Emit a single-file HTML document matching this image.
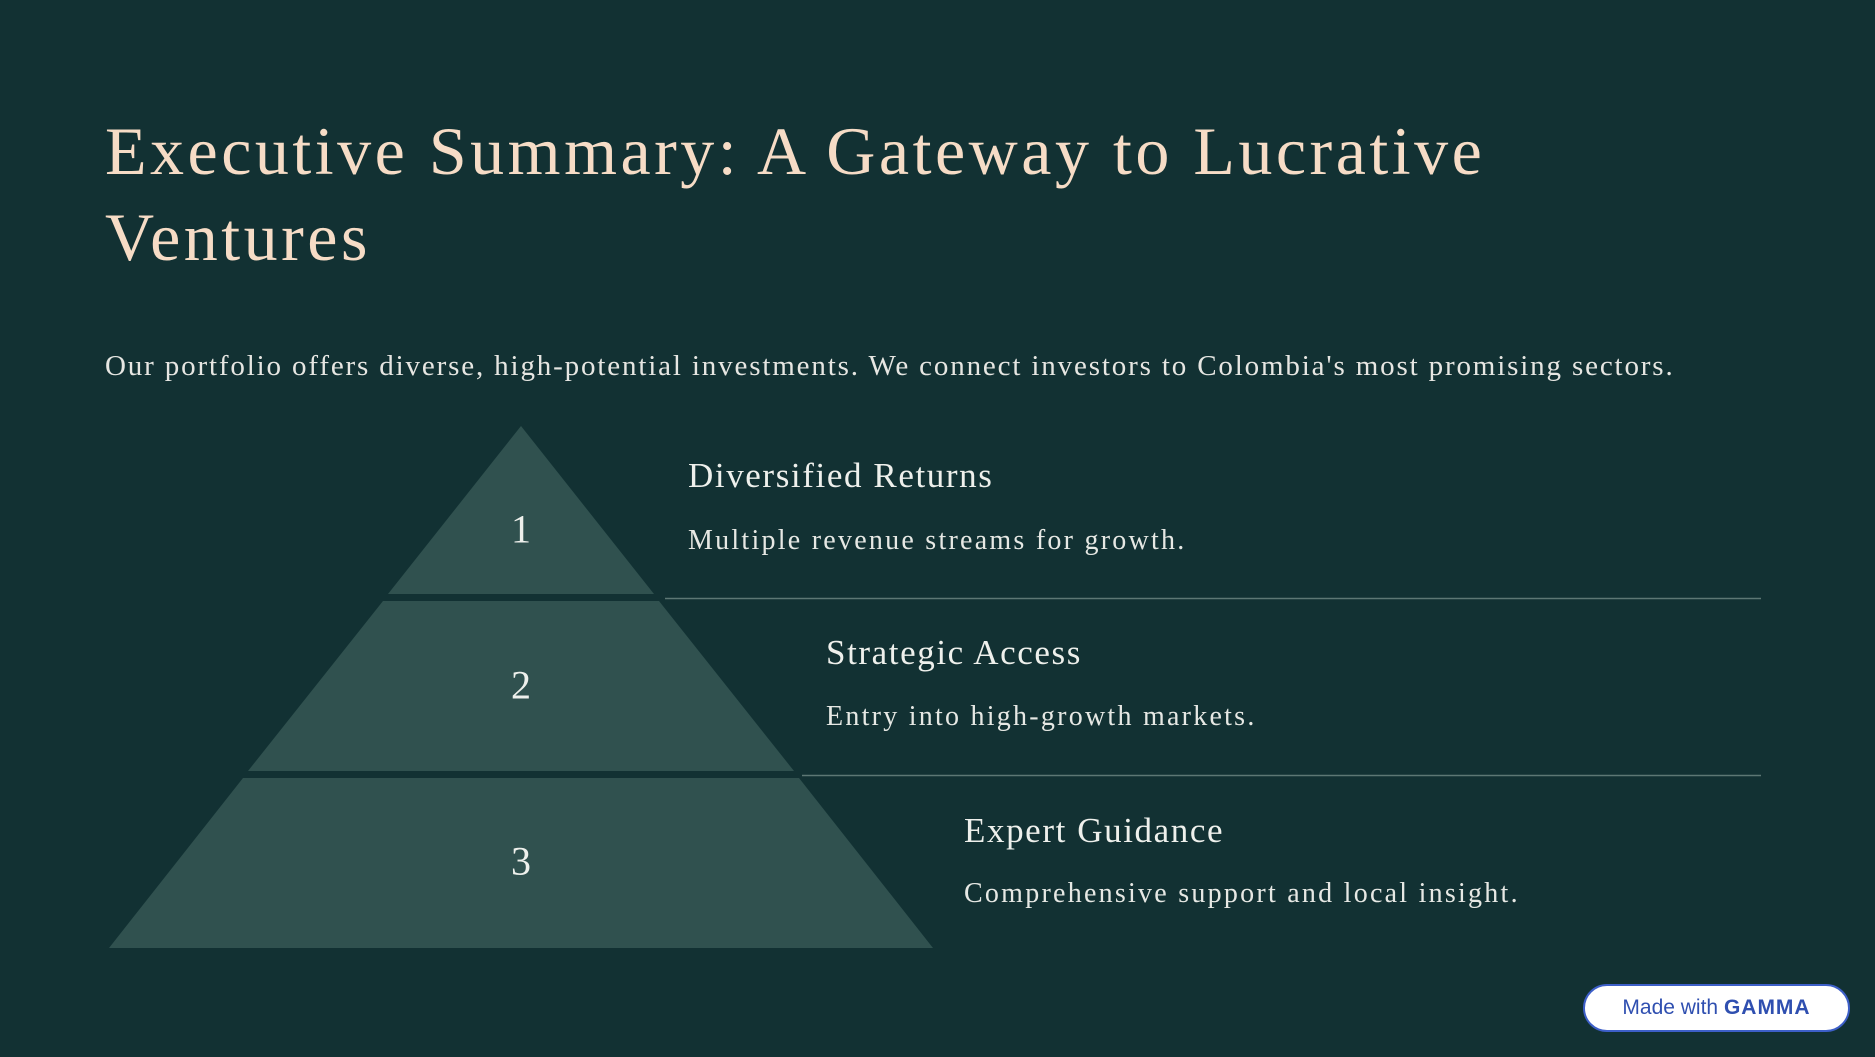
<!DOCTYPE html>
<html><head><meta charset="utf-8"><style>
html,body{margin:0;padding:0}
body{width:1875px;height:1057px;background:#123133;position:relative;overflow:hidden;font-family:"Liberation Serif",serif;}
.t{position:absolute;white-space:nowrap}
h1{position:absolute;left:105px;top:108px;margin:0;font-weight:normal;font-size:68px;line-height:86px;color:#f6dcc6;letter-spacing:3.5px}
.sub{left:105px;top:350px;font-size:29px;color:#e6e6e2;letter-spacing:1.85px}
.h{font-size:35px;color:#eef0ec;letter-spacing:1.6px}
.d{font-size:28px;color:#e6e8e4;letter-spacing:2.25px}
.n{font-size:40px;color:#eef0ec;transform:translate(-50%,-50%)}
.badge{position:absolute;left:1583px;top:984px;width:263px;height:44px;border:2px solid #3d5fc8;border-radius:24px;background:#fff;color:#2f4fb0;font-family:"Liberation Sans",sans-serif;font-size:21px;line-height:44px;text-align:center}
</style></head><body>
<h1>Executive Summary: A Gateway to Lucrative<br>Ventures</h1>
<div class="t sub">Our portfolio offers diverse, high-potential investments. We connect investors to Colombia's most promising sectors.</div>
<svg width="1875" height="1057" style="position:absolute;left:0;top:0">
<polygon points="521,426 654,594 388,594" fill="#30514f"/>
<polygon points="383,601 659,601 794,771 248,771" fill="#30514f"/>
<polygon points="243,778 799,778 933,948 109,948" fill="#30514f"/>
<line x1="665" y1="598.5" x2="1761" y2="598.5" stroke="#5d7774" stroke-width="1.5"/>
<line x1="802" y1="775.5" x2="1761" y2="775.5" stroke="#5d7774" stroke-width="1.5"/>
</svg>
<div class="t n" style="left:521px;top:529px">1</div>
<div class="t n" style="left:521px;top:685px">2</div>
<div class="t n" style="left:521px;top:861px">3</div>
<div class="t h" style="left:688px;top:456px">Diversified Returns</div>
<div class="t d" style="left:688px;top:525px">Multiple revenue streams for growth.</div>
<div class="t h" style="left:826px;top:633px">Strategic Access</div>
<div class="t d" style="left:826px;top:701px">Entry into high-growth markets.</div>
<div class="t h" style="left:964px;top:811px">Expert Guidance</div>
<div class="t d" style="left:964px;top:878px">Comprehensive support and local insight.</div>
<div class="badge">Made with <b style="letter-spacing:1px">GAMMA</b></div>
</body></html>
